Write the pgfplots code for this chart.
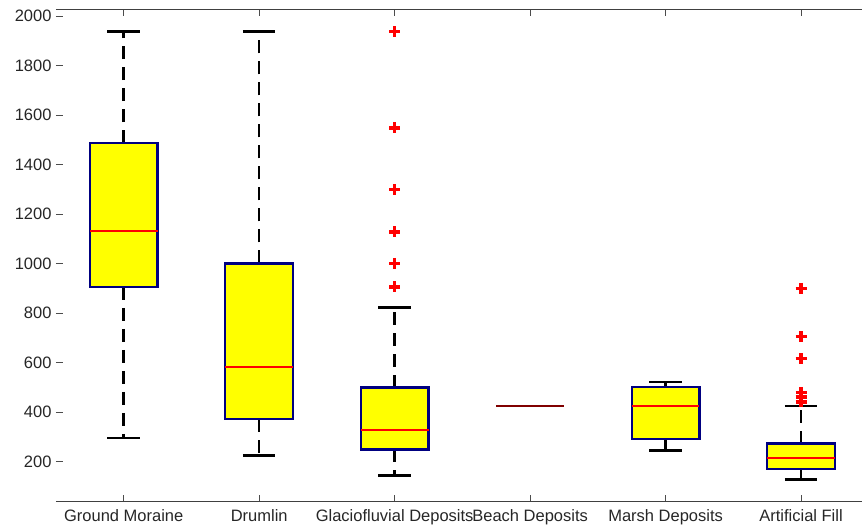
\documentclass[border=0pt]{standalone}
\usepackage{pgfplots}
\pgfplotsset{compat=1.18}
\usepackage{fontspec}
\setmainfont{Liberation Sans}
\definecolor{boxedge}{RGB}{0,0,128}
\definecolor{boxfill}{RGB}{255,255,0}
\definecolor{flatbox}{RGB}{128,0,0}
\begin{document}
\begin{tikzpicture}
\begin{axis}[
  at={(0pt,0pt)}, anchor=south west,
  scale only axis, width=806pt, height=492.5pt,
  xmin=0.5, xmax=6.45, ymin=38, ymax=2026,
  clip=false,
  xtick={1,2,3,4,5,6},
  xticklabels={Ground Moraine, Drumlin, Glaciofluvial Deposits, Beach Deposits, Marsh Deposits, Artificial Fill},
  ytick={200,400,...,2000},
  ytick pos=left, xtick pos=both,
  tick align=inside,
  major tick length=7pt,
  axis line style={draw=none},
  tick style={line width=0.8pt, black!70},
  tick label style={font=\fontsize{16.5}{19}\selectfont, text=black!85},
  yticklabel style={xshift=-1pt},
  xticklabel style={yshift=-4pt},
  /pgf/number format/assume math mode=true,
  /pgf/number format/1000 sep={},
  whisker/.style={black, line width=2.6pt, dash pattern=on 13pt off 8pt},
  cap/.style={black, line width=2.6pt},
  box/.style={fill=boxfill, draw=boxedge, line width=2.2pt},
  median/.style={red, line width=2.2pt},
  outlier/.style={only marks, mark=+, mark size=5.5pt, mark options={draw=red, line width=3.4pt, solid}},
]
% top and bottom frame lines (no vertical frame)
\draw[black!75, line width=1pt] (rel axis cs:0,0) -- (rel axis cs:1,0);
\draw[black!75, line width=1pt] (rel axis cs:0,1) -- (rel axis cs:1,1);
% ---- whiskers (dashed) ----
\addplot[whisker] coordinates {(1,1487) (1,1938)};
\addplot[whisker] coordinates {(1,906) (1,297)};
\addplot[whisker] coordinates {(2,1001) (2,1938)};
\addplot[whisker] coordinates {(2,372) (2,226)};
\addplot[whisker] coordinates {(3,500) (3,822)};
\addplot[whisker] coordinates {(3,250) (3,144)};
\addplot[whisker] coordinates {(5,503) (5,523)};
\addplot[whisker] coordinates {(5,292) (5,247)};
\addplot[whisker] coordinates {(6,274) (6,426)};
\addplot[whisker] coordinates {(6,171) (6,129)};
% ---- whisker caps ----
\addplot[cap] coordinates {(0.88,1938) (1.12,1938)};
\addplot[cap] coordinates {(0.88,297) (1.12,297)};
\addplot[cap] coordinates {(1.88,1938) (2.12,1938)};
\addplot[cap] coordinates {(1.88,226) (2.12,226)};
\addplot[cap] coordinates {(2.88,822) (3.12,822)};
\addplot[cap] coordinates {(2.88,144) (3.12,144)};
\addplot[cap] coordinates {(4.88,523) (5.12,523)};
\addplot[cap] coordinates {(4.88,247) (5.12,247)};
\addplot[cap] coordinates {(5.88,426) (6.12,426)};
\addplot[cap] coordinates {(5.88,129) (6.12,129)};
% ---- boxes (lower to upper quartile) ----
\addplot[box] coordinates {(0.75,906) (1.25,906) (1.25,1487) (0.75,1487)} -- cycle;
\addplot[box] coordinates {(1.75,372) (2.25,372) (2.25,1001) (1.75,1001)} -- cycle;
\addplot[box] coordinates {(2.75,250) (3.25,250) (3.25,500) (2.75,500)} -- cycle;
\addplot[box] coordinates {(4.75,292) (5.25,292) (5.25,503) (4.75,503)} -- cycle;
\addplot[box] coordinates {(5.75,171) (6.25,171) (6.25,274) (5.75,274)} -- cycle;
% ---- medians ----
\addplot[median] coordinates {(0.75,1131) (1.25,1131)};
\addplot[median] coordinates {(1.75,584) (2.25,584)};
\addplot[median] coordinates {(2.75,328) (3.25,328)};
\addplot[flatbox, line width=2.2pt] coordinates {(3.75,426) (4.25,426)};
\addplot[median] coordinates {(4.75,426) (5.25,426)};
\addplot[median] coordinates {(5.75,216) (6.25,216)};
% ---- outliers ----
\addplot[outlier] coordinates {(3,1936) (3,1548) (3,1299) (3,1128) (3,1001) (3,906)};
\addplot[outlier] coordinates {(6,900) (6,705) (6,617) (6,480) (6,462) (6,442)};
\end{axis}
\pgfresetboundingbox
\useasboundingbox (-56pt,-27pt) rectangle (806pt,502pt);
\end{tikzpicture}
\end{document}
